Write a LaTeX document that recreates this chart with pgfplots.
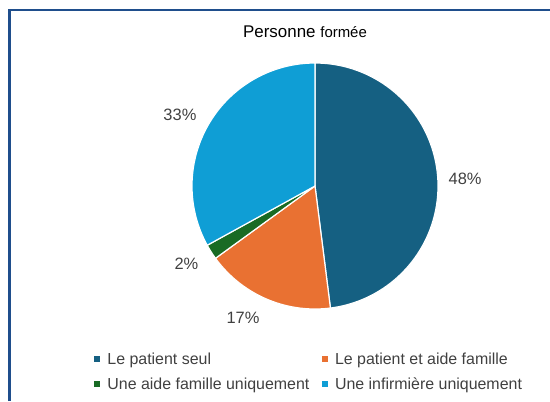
\documentclass[border=0pt]{standalone}
\usepackage{fontspec}
\setmainfont{Liberation Sans}
\usepackage{pgfplots}
\pgfplotsset{compat=1.18}
\definecolor{cA}{HTML}{156082}
\definecolor{cB}{HTML}{E97132}
\definecolor{cC}{HTML}{196B24}
\definecolor{cD}{HTML}{0F9ED5}
\definecolor{frame}{RGB}{31,78,140}
\definecolor{txt}{HTML}{404040}
% values (percent)
\def\vA{48}\def\vB{17}\def\vC{2}\def\vD{33}
\pgfmathsetmacro\aA{0}
\pgfmathsetmacro\aB{\aA+3.6*\vA}
\pgfmathsetmacro\aC{\aB+3.6*\vB}
\pgfmathsetmacro\aD{\aC+3.6*\vC}
\pgfmathsetmacro\aE{\aD+3.6*\vD}
\begin{document}
\begin{tikzpicture}[x=1bp,y=1bp]
\path[use as bounding box] (0,0) rectangle (550,401);
\draw[line width=2.5bp, color=frame] (9.5,0) -- (9.5,391) -- (552,391);
\node[anchor=base, text=black] at (305,364) {\fontsize{17}{20}\selectfont Personne \fontsize{15}{18}\selectfont formée};
\begin{axis}[
  at={(315bp,215bp)}, anchor=center,
  width=246bp, height=246bp, scale only axis,
  xmin=-1, xmax=1, ymin=-1, ymax=1,
  hide axis, clip=false,
  legend columns=2,
  legend cell align=left,
  legend style={at={(axis description cs:-0.398,-0.163)}, anchor=north west,
    draw=none, fill=none, inner sep=0pt,
    font=\fontsize{16}{19}\selectfont, text=txt,
    /tikz/every even column/.append style={column sep=9bp},
    row sep=5bp,
    nodes={inner sep=3.5bp}},
  legend image code/.code={\fill[#1, draw=none] (0bp,-3bp) rectangle (6bp,3bp); \path (9bp,0bp);},
]
\addplot[fill=cA, draw=white, line width=1.2bp, domain=\aA:\aB, samples=90, variable=\t] ({sin(t)},{cos(t)}) -- (axis cs:0,0) -- cycle;
\addlegendentry{Le patient seul}
\addplot[fill=cB, draw=white, line width=1.2bp, domain=\aB:\aC, samples=40, variable=\t] ({sin(t)},{cos(t)}) -- (axis cs:0,0) -- cycle;
\addlegendentry{Le patient et aide famille}
\addplot[fill=cC, draw=white, line width=1.2bp, domain=\aC:\aD, samples=10, variable=\t] ({sin(t)},{cos(t)}) -- (axis cs:0,0) -- cycle;
\addlegendentry{Une aide famille uniquement}
\addplot[fill=cD, draw=white, line width=1.2bp, domain=\aD:\aE, samples=70, variable=\t] ({sin(t)},{cos(t)}) -- (axis cs:0,0) -- cycle;
\addlegendentry{Une infirmière uniquement}
\begin{scope}[every node/.style={text=txt, font=\fontsize{16.5}{19}\selectfont}]
\node at (axis cs:1.220,0.056) {48\%};
\node at (axis cs:-0.585,-1.073) {17\%};
\node at (axis cs:-1.045,-0.629) {2\%};
\node at (axis cs:-1.098,0.581) {33\%};
\end{scope}
\end{axis}
\end{tikzpicture}
\end{document}
